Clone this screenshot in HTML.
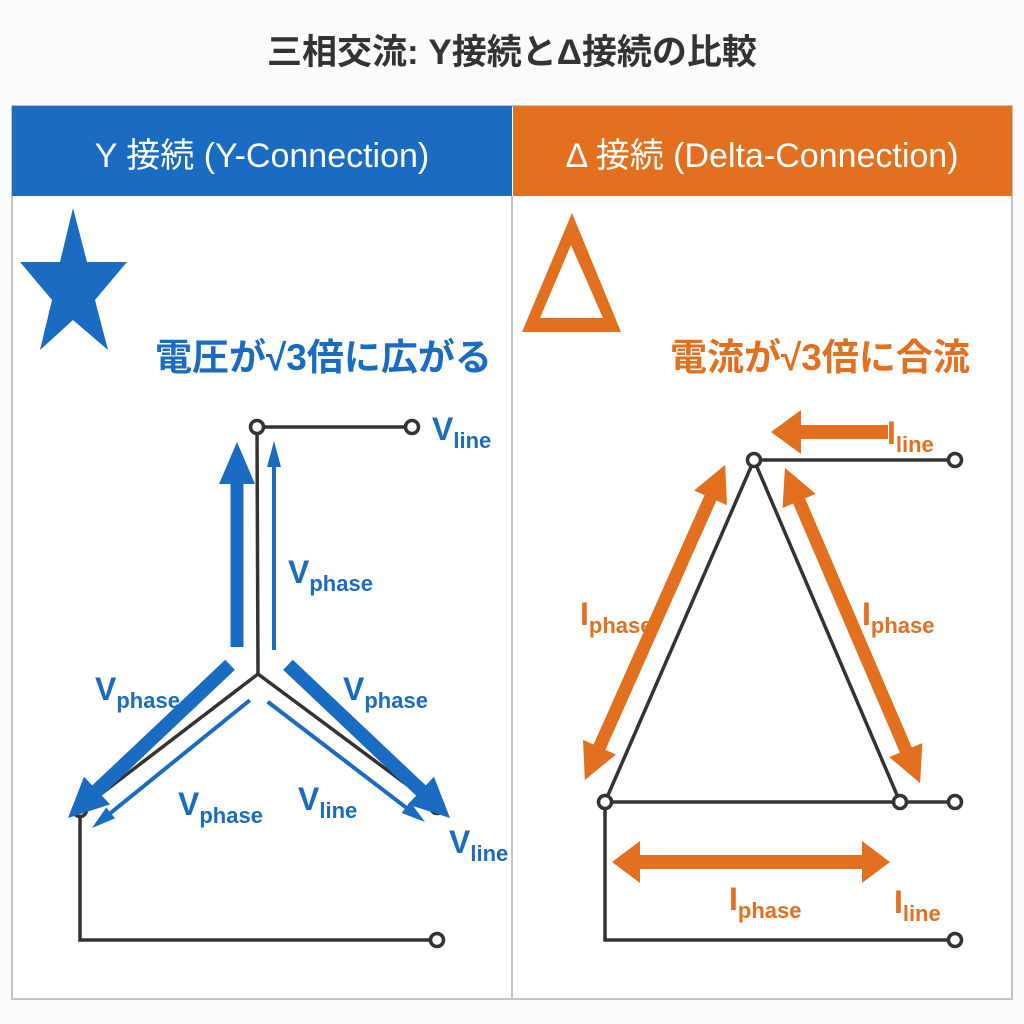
<!DOCTYPE html>
<html><head><meta charset="utf-8"><style>
html,body{margin:0;padding:0;background:#fbfbfb;}
svg{display:block;}
text{font-family:"Liberation Sans","Noto Sans CJK JP",sans-serif;}
</style></head><body>
<svg width="1024" height="1024" viewBox="0 0 1024 1024" xmlns="http://www.w3.org/2000/svg">
<rect width="1024" height="1024" fill="#fbfbfb"/>
<text x="512" y="64" text-anchor="middle" font-size="35" font-weight="bold" fill="#333">三相交流: Y接続とΔ接続の比較</text>
<rect x="12" y="106" width="1000" height="893" fill="#fff" stroke="#c4c4c4" stroke-width="2"/>
<rect x="12" y="106" width="500" height="90" fill="#1a6cc2"/>
<rect x="513" y="106" width="499" height="90" fill="#e2701f"/>
<line x1="512" y1="196" x2="512" y2="999" stroke="#c4c4c4" stroke-width="2"/>
<text x="262" y="167" text-anchor="middle" font-size="34" fill="#fff">Y 接続 (Y-Connection)</text>
<text x="762" y="167" text-anchor="middle" font-size="34" fill="#fff">Δ 接続 (Delta-Connection)</text>
<polygon fill="#1a6cc2" points="73,208 87,262 127,262 95,300 108,350 73,320 40,350 52,300 20,262 60,262"/>
<path fill="#e2701f" fill-rule="evenodd" d="M572,213 L522,332 L621,332 Z M571,245 L540,318 L603,318 Z"/>
<text x="155" y="370" font-size="37" font-weight="bold" fill="#1a6cc2">電圧が√3倍に広がる</text>
<text x="670" y="370" font-size="37" font-weight="bold" fill="#e2701f">電流が√3倍に合流</text>

<g stroke="#333" stroke-width="3.5" fill="none">
<polyline points="257,427 412,427"/>
<polyline points="257,427 258,674 80,810"/>
<polyline points="258,674 437,807"/>
<polyline points="80,810 80,940 437,940"/>
</g>
<g fill="#fff" stroke="#333" stroke-width="3.5">
<circle cx="257" cy="427" r="6.5"/><circle cx="412" cy="427" r="6.5"/>
<circle cx="80" cy="810" r="6.5"/><circle cx="437" cy="807" r="6.5"/>
<circle cx="437" cy="940" r="6.5"/>
</g>
<g fill="#1a6cc2">
<polygon transform="translate(237,442) rotate(-90)" points="-205,-6.5 -42,-6.5 -42,-18 0,0 -42,18 -42,6.5 -205,6.5"/>
<polygon transform="translate(274,441) rotate(-90)" points="-209,-2 -26,-2 -26,-7 0,0 -26,7 -26,2 -209,2"/>
<polygon transform="translate(68,818) rotate(136.6)" points="-223,-7 -40,-7 -40,-19 0,0 -40,19 -40,7 -223,7"/>
<polygon transform="translate(92,828) rotate(141)" points="-203,-2 -24,-2 -24,-7 0,0 -24,7 -24,2 -203,2"/>
<polygon transform="translate(450,818) rotate(43.4)" points="-223,-7 -40,-7 -40,-19 0,0 -40,19 -40,7 -223,7"/>
<polygon transform="translate(425,822) rotate(37.4)" points="-198,-2 -24,-2 -24,-7 0,0 -24,7 -24,2 -198,2"/>
</g>
<g font-weight="bold" fill="#1a6cc2">
<text x="432" y="440" font-size="32">V<tspan font-size="22" dy="8">line</tspan></text>
<text x="288" y="583" font-size="32">V<tspan font-size="22" dy="8">phase</tspan></text>
<text x="95" y="700" font-size="32">V<tspan font-size="22" dy="8">phase</tspan></text>
<text x="343" y="700" font-size="32">V<tspan font-size="22" dy="8">phase</tspan></text>
<text x="178" y="815" font-size="32">V<tspan font-size="22" dy="8">phase</tspan></text>
<text x="298" y="810" font-size="32">V<tspan font-size="22" dy="8">line</tspan></text>
<text x="449" y="853" font-size="32">V<tspan font-size="22" dy="8">line</tspan></text>
</g>

<g stroke="#333" stroke-width="3.5" fill="none">
<polygon points="754,460 605,802 900,802"/>
<polyline points="754,460 955,460"/>
<polyline points="900,802 955,802"/>
<polyline points="605,802 605,940 955,940"/>
</g>
<g fill="#fff" stroke="#333" stroke-width="3.5">
<circle cx="754" cy="460" r="6.5"/><circle cx="955" cy="460" r="6.5"/>
<circle cx="605" cy="802" r="6.5"/><circle cx="900" cy="802" r="6.5"/>
<circle cx="955" cy="802" r="6.5"/><circle cx="955" cy="940" r="6.5"/>
</g>
<g fill="#e2701f">
<polygon transform="translate(771,432) rotate(180)" points="-117,-7 -30,-7 -30,-22 0,0 -30,22 -30,7 -117,7"/>
<polygon transform="translate(655,622.5) rotate(114)" points="-172.5,0 -136.5,-18 -136.5,-6.5 136.5,-6.5 136.5,-18 172.5,0 136.5,18 136.5,6.5 -136.5,6.5 -136.5,18"/>
<polygon transform="translate(852.5,625.5) rotate(66.8)" points="-171.5,0 -135.5,-18 -135.5,-6.5 135.5,-6.5 135.5,-18 171.5,0 135.5,18 135.5,6.5 -135.5,6.5 -135.5,18"/>
<polygon transform="translate(751,862)" points="-139,0 -111,-21 -111,-7 111,-7 111,-21 139,0 111,21 111,7 -111,7 -111,21"/>
</g>
<g font-weight="bold" fill="#e2701f">
<text x="887" y="444" font-size="32">I<tspan font-size="22" dy="8">line</tspan></text>
<text x="580" y="625" font-size="32">I<tspan font-size="22" dy="8">phase</tspan></text>
<text x="862" y="625" font-size="32">I<tspan font-size="22" dy="8">phase</tspan></text>
<text x="729" y="910" font-size="32">I<tspan font-size="22" dy="8">phase</tspan></text>
<text x="894" y="913" font-size="32">I<tspan font-size="22" dy="8">line</tspan></text>
</g>
</svg>
</body></html>
